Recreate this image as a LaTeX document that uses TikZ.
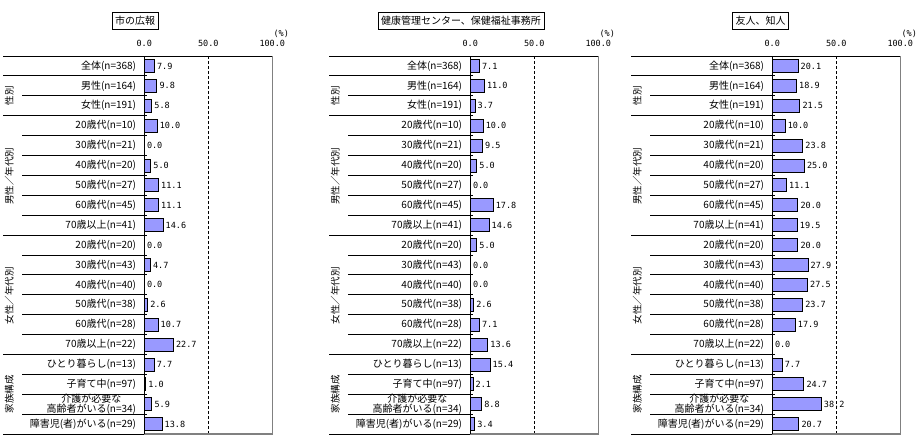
\documentclass[tikz,border=0pt]{standalone}
\usepackage{fontspec}
\setmainfont{Noto Sans CJK JP}
\newfontfamily\numfont{DejaVu Sans Mono}
\definecolor{barfill}{HTML}{9999FF}
\definecolor{framegray}{HTML}{808080}
\tikzset{
  lbl/.style={font=\fontsize{10}{10.5}\selectfont, inner sep=0pt, anchor=east, align=center},
  num/.style={font=\numfont\fontsize{8.5}{9}\selectfont, inner sep=0pt},
  grp/.style={font=\fontsize{9.5}{10}\selectfont, inner sep=0pt, rotate=90},
  titlebox/.style={draw, line width=0.9pt, font=\fontsize{10}{11}\selectfont, inner xsep=3pt, inner ysep=0pt, minimum height=17pt},
  bar/.style={draw, line width=0.9pt, fill=barfill},
  rowline/.style={line width=0.9pt},
  frameline/.style={draw=framegray, line width=1.6pt},
  midline/.style={line width=0.8pt, dash pattern=on 3pt off 2pt},
}
\newcommand\drawpanel[5]{%
  \pgfmathsetmacro\ax{#2}%
  \pgfmathsetmacro\lx{#2-141}%
  \pgfmathsetmacro\ix{#2-122}%
  \pgfmathsetmacro\fx{#2+128}%
  \pgfmathsetmacro\mx{#2+64}%
  \node[titlebox] (title#1) at (#4,20.5) {#3};
  \node[num] (tz#1) at (\ax,43) {0.0};
  \node[num] (tm#1) at (\mx,43) {50.0};
  \node[num] (tf#1) at (\fx,43) {100.0};
  \node[num] (pc#1) at (\fx+9,34) {(\%)};
  % dashed 50% line
  \draw[midline] (\mx,56) -- (\mx,434);
  % frame
  \draw[frameline] (\fx,56) -- (\fx,434) -- (\ax,434);
  \draw[rowline] (\lx,56) -- (\fx,56);
  \draw[rowline] (\lx,434) -- (\ax,434);
  \draw[rowline] (\ax,56) -- (\ax,434);
  \foreach \k in {1,...,18}{
    \pgfmathsetmacro\yy{56+19.9*\k}
    \pgfmathtruncatemacro\isfull{(\k==1)||(\k==3)||(\k==9)||(\k==15)}
    \ifnum\isfull=1 \def\sx{\lx}\else\def\sx{\ix}\fi
    \draw[rowline] (\sx,\yy) -- (\ax+3,\yy);
  }
  % labels
  \foreach \lab [count=\i] in {{全体(n=368)},{男性(n=164)},{女性(n=191)},{20歳代(n=10)},{30歳代(n=21)},{40歳代(n=20)},{50歳代(n=27)},{60歳代(n=45)},{70歳以上(n=41)},{20歳代(n=20)},{30歳代(n=43)},{40歳代(n=40)},{50歳代(n=38)},{60歳代(n=28)},{70歳以上(n=22)},{ひとり暮らし(n=13)},{子育て中(n=97)},{介護が必要な\\高齢者がいる(n=34)},{障害児(者)がいる(n=29)}}{
    \pgfmathsetmacro\yc{56+19.9*(\i-0.5)}
    \node[lbl] (l#1-\i) at (\ax-8,\yc) {\lab};
  }
  % group labels
  \node[grp] (ga#1) at (\lx+6,95.8) {性別};
  \node[grp] (gb#1) at (\lx+6,176) {男性／年代別};
  \node[grp] (gc#1) at (\lx+6,295.5) {女性／年代別};
  \node[grp] (gd#1) at (\lx+6,394.3) {家族構成};
  % bars
  \foreach \v [count=\i] in {#5}{
    \pgfmathsetmacro\yc{56+19.9*(\i-0.5)}
    \pgfmathsetmacro\w{1.28*\v}
    \ifdim\v pt>0pt \draw[bar] (\ax,\yc-6.5) rectangle (\ax+\w,\yc+6.5);\fi
    \node[num, anchor=west] (v#1-\i) at (\ax+\w+2.5,\yc) {\v};
  }
}
\begin{document}
\begin{tikzpicture}[x=1pt,y=-1pt]
  \useasboundingbox (0,0) rectangle (919,442);
  \drawpanel{a}{144.3}{市の広報}{135}{7.9,9.8,5.8,10.0,0.0,5.0,11.1,11.1,14.6,0.0,4.7,0.0,2.6,10.7,22.7,7.7,1.0,5.9,13.8}
  \drawpanel{b}{470.3}{健康管理センター、保健福祉事務所}{461}{7.1,11.0,3.7,10.0,9.5,5.0,0.0,17.8,14.6,5.0,0.0,0.0,2.6,7.1,13.6,15.4,2.1,8.8,3.4}
  \drawpanel{c}{772.3}{友人、知人}{760.7}{20.1,18.9,21.5,10.0,23.8,25.0,11.1,20.0,19.5,20.0,27.9,27.5,23.7,17.9,0.0,7.7,24.7,38.2,20.7}
\end{tikzpicture}
\end{document}
